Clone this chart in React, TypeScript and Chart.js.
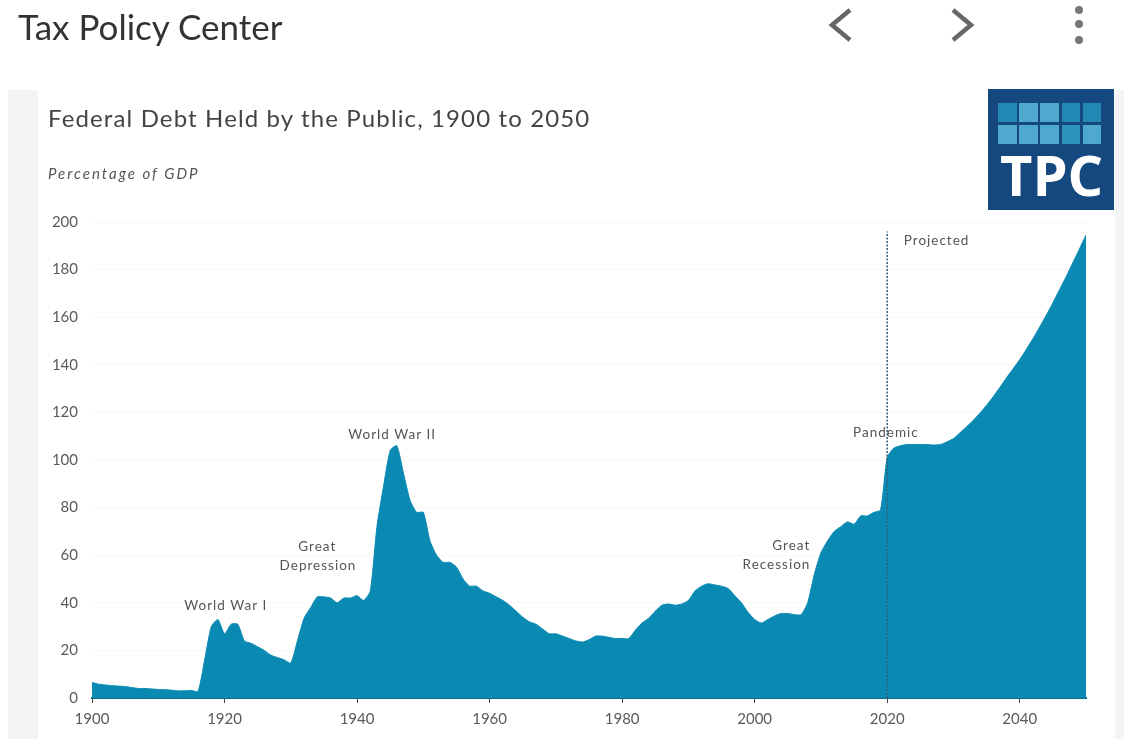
import React, { useEffect, useRef } from "react";
import { Chart, registerables } from "chart.js";

Chart.register(...registerables);

const firstYear = 1900;
const debtShare = [
  6.5, 5.8, 5.5, 5.2, 5, 4.8, 4.4, 4, 4, 3.8,
  3.6, 3.5, 3.3, 3, 3, 3.2, 2.7, 16, 30, 33,
  27, 31, 31, 24, 23, 21.5, 20, 18, 17, 16,
  14.7, 24, 33.5, 38, 42.5, 42.5, 42, 40, 42, 42,
  43, 41, 45, 72, 89, 104, 106, 94.5, 83, 78,
  78, 66, 60, 57, 57, 55, 50, 47, 47, 45,
  44, 42.5, 41, 39, 36.5, 34, 32, 31, 29, 27,
  27, 26, 25, 24, 23.5, 24.5, 26, 26, 25.5, 25,
  25, 25, 28.5, 31.5, 33.5, 36.5, 39, 39.5, 39, 39.5,
  41, 45, 47, 48, 47.5, 47, 46, 43, 40, 36,
  33, 31.5, 33, 34.5, 35.5, 35.5, 35, 35, 40, 52,
  61, 66, 70, 72, 74, 73, 76.5, 76.5, 78, 79,
  101, 105, 106, 106.5, 106.5, 106.5, 106.5, 106.3, 106.5, 107.6,
  109, 111.5, 114, 116.7, 119.7, 123, 126.6, 130.5, 134.5, 138.3,
  142.2, 146.5, 151, 155.8, 160.8, 166, 171.5, 177, 182.8, 188.6, 194.5,
];
const projectionYear = 2020;
const projectionMarkerTop = 196;
const lastLabelledYear = 2040;

const noteTexts = ["World War I", "Great", "Depression", "World War II", "Great", "Recession", "Pandemic", "Projected"];
const noteYears = [1920.2, 1934, 1934.1, 1945.3, 2008.4, 2008.4, 2019.8, 2022.5];
const noteLevels = [38.6, 63.5, 55.5, 110.5, 64, 56, 111.7, 192];
const noteAligns: CanvasTextAlign[] = ["center", "center", "center", "center", "right", "right", "center", "left"];

const logoCellShades = [
  ["#2389b4", "#4fa9cf", "#4fa9cf", "#2389b4", "#2389b4"],
  ["#4fa9cf", "#4fa9cf", "#4fa9cf", "#2c92ba", "#4fa9cf"],
];

const uiFont = "Lato, 'Open Sans', sans-serif";

// Writes the event names beside the area, placed through the chart's own scales.
const eventNotes = {
  id: "eventNotes",
  afterDatasetsDraw(chart: Chart) {
    const { ctx, scales } = chart;
    ctx.save();
    ctx.font = `13.5px ${uiFont}`;
    (ctx as any).letterSpacing = "1px";
    ctx.fillStyle = "#555";
    ctx.textBaseline = "middle";
    noteTexts.forEach((text, i) => {
      ctx.textAlign = noteAligns[i];
      ctx.fillText(text, scales.x.getPixelForValue(noteYears[i]), scales.y.getPixelForValue(noteLevels[i]));
    });
    ctx.restore();
  },
};

export default function App() {
  const canvasRef = useRef<HTMLCanvasElement>(null);

  useEffect(() => {
    document.body.style.margin = "0";
    document.body.style.background = "#fff";
    const chart = new Chart(canvasRef.current!, {
      type: "line",
      data: {
        datasets: [
          {
            data: [
              { x: projectionYear, y: 0 },
              { x: projectionYear, y: projectionMarkerTop },
            ],
            borderColor: "#33607c",
            borderWidth: 1.5,
            borderDash: [2, 1.5],
            pointRadius: 0,
            fill: false,
            order: 0,
          },
          {
            data: debtShare.map((y, i) => ({ x: firstYear + i, y })),
            borderColor: "#0a8ab3",
            backgroundColor: "#0a8ab3",
            borderWidth: 1,
            pointRadius: 0,
            tension: 0.2,
            fill: "origin",
            order: 1,
          },
        ],
      },
      options: {
        animation: false,
        responsive: false,
        layout: { padding: { top: 222, right: 38, left: 0, bottom: 0 } },
        plugins: { legend: { display: false }, tooltip: { enabled: false } },
        scales: {
          x: {
            type: "linear",
            min: 1900,
            max: 2050,
            afterFit: (s: any) => { s.height = 41; },
            afterBuildTicks: (s: any) => { s.ticks = s.ticks.filter((t: any) => t.value <= lastLabelledYear); },
            grid: { drawOnChartArea: false, drawTicks: true, tickLength: 5, color: "#444" },
            border: { display: true, color: "#0b6a88", width: 2 },
            ticks: {
              stepSize: 20,
              padding: 7,
              maxRotation: 0,
              color: "#5a5a5a",
              font: { family: uiFont, size: 15 },
              callback: (v: any) => String(v),
            },
          },
          y: {
            min: 0,
            max: 200,
            afterFit: (s: any) => { s.width = 92; },
            grid: { color: "#f7f7f7", drawTicks: false },
            border: { display: false },
            ticks: {
              stepSize: 20,
              padding: 14,
              color: "#5a5a5a",
              font: { family: uiFont, size: 15 },
            },
          },
        },
      },
      plugins: [eventNotes],
    } as any);
    return () => chart.destroy();
  }, []);

  const abs = (left: number, top: number): React.CSSProperties => ({ position: "absolute", left, top });

  return (
    <div style={{ position: "relative", width: 1124, height: 739, overflow: "hidden", background: "#fff", fontFamily: uiFont }}>
      <div style={{ ...abs(8, 90), width: 30, height: 649, background: "#f4f4f4" }} />
      <div style={{ ...abs(1115, 90), width: 9, height: 649, background: "#f4f4f4" }} />
      <canvas ref={canvasRef} width={1124} height={739} style={{ ...abs(0, 0), display: "block" }} />
      <div style={{ ...abs(18, 6), fontSize: 35, lineHeight: "40px", color: "#333", whiteSpace: "nowrap" }}>Tax Policy Center</div>
      <svg width={1124} height={60} style={abs(0, 0)}>
        <polyline points="850,10 832,25 850,40" fill="none" stroke="#666" strokeWidth={4.5} />
        <polyline points="953,10 971,25 953,40" fill="none" stroke="#666" strokeWidth={4.5} />
        <circle cx={1079} cy={10} r={4} fill="#777" />
        <circle cx={1079} cy={24} r={4} fill="#777" />
        <circle cx={1079} cy={40} r={4} fill="#777" />
      </svg>
      <div style={{ ...abs(48, 103), fontSize: 24, lineHeight: "30px", color: "#444", letterSpacing: 1.13, whiteSpace: "nowrap" }}>
        Federal Debt Held by the Public, 1900 to 2050
      </div>
      <div style={{ ...abs(48, 164), fontSize: 15, lineHeight: "18px", color: "#555", fontStyle: "italic", letterSpacing: 2, whiteSpace: "nowrap" }}>
        Percentage of GDP
      </div>
      <div style={{ ...abs(988, 89), width: 126, height: 121, background: "#14487f", overflow: "hidden" }}>
        {logoCellShades.map((row, r) =>
          row.map((shade, c) => (
            <div key={`${r}-${c}`} style={{ ...abs(10 + c * 21.2, 14 + r * 22), width: 18.5, height: 19, background: shade }} />
          )),
        )}
        <div style={{ ...abs(12, 55), fontSize: 56, lineHeight: "60px", fontWeight: 700, color: "#fff", fontFamily: "'Open Sans', sans-serif", whiteSpace: "nowrap" }}>
          TPC
        </div>
      </div>
    </div>
  );
}
